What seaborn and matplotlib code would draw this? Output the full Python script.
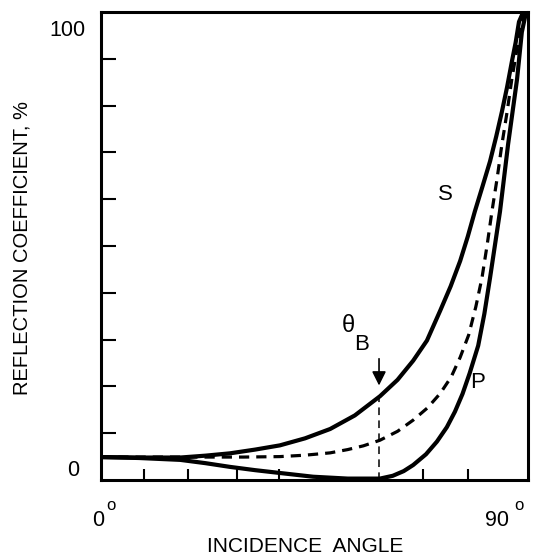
import matplotlib
matplotlib.use("Agg")
import matplotlib.pyplot as plt
import seaborn as sns

# ---- data (incidence angle in degrees, reflection coefficient in %) ----
s_angle = [0, 8, 16.7, 22, 27.2, 32.5, 37.7, 43, 48.3, 53.5, 58.8, 62.5, 65.8, 68.7, 71.5,
           73.7, 75.7, 77.3, 78.8, 80.4, 82.0, 83.3, 84.5, 85.6, 86.6, 87.4, 88.1, 89.0]
s_refl = [4.9, 4.8, 4.8, 5.2, 5.7, 6.5, 7.4, 8.9, 10.9, 13.8, 17.9, 21.4, 25.5, 29.8, 36.2,
          41.4, 46.8, 52.0, 57.4, 62.7, 68.1, 73.4, 78.7, 84.0, 89.4, 93.5, 97.9, 100]

avg_angle = [0, 16.7, 30, 37.7, 43, 48.3, 52, 55.3, 58.8, 62.5, 65.8, 68.8, 71.5, 73.8, 75.7,
             77.5, 79.0, 80.3, 81.4, 82.4, 83.5, 84.5, 85.6, 86.6, 87.5, 88.4, 89.4]
avg_refl = [4.9, 4.9, 4.9, 5.0, 5.3, 5.8, 6.5, 7.3, 8.5, 10.4, 12.8, 15.4, 18.5, 22.0, 26.2,
            31.0, 37.0, 43.2, 50.3, 57.4, 64.5, 71.7, 78.7, 85.7, 91.0, 96.4, 100]

p_angle = [0, 8, 16.7, 22, 27.2, 32.5, 37.7, 44.7, 52, 58.8, 61.5, 63.8, 65.8, 68.5, 70.8,
           72.9, 74.6, 76.2, 77.7, 79.5, 80.8, 82.0, 84.1, 85.8, 87.7, 88.7, 89.6]
p_refl = [4.9, 4.7, 4.3, 3.6, 2.8, 2.1, 1.5, 0.7, 0.3, 0.3, 0.9, 1.9, 3.2, 5.5, 8.2,
          11.3, 14.6, 18.4, 22.8, 28.7, 35.5, 43.2, 57.4, 71.7, 85.7, 95.7, 100]

brewster_angle = 58.6
brewster_refl_s = 17.9

x_tick_pos = [9.1, 18.3, 28.7, 37.5, 67.9, 77.4]
y_tick_pos = [10, 20, 30, 40, 50, 60, 70, 80, 90]

W, H = 539, 559
sns.set_theme(style="white")
plt.rcParams['font.family'] = ['Liberation Sans', 'DejaVu Sans']

fig = plt.figure(figsize=(W / 100, H / 100), dpi=100)
ax = fig.add_axes([101 / W, 1 - 480 / H, (528 - 101) / W, (480 - 12) / H])

lw = 3.0
sns.lineplot(x=s_angle, y=s_refl, ax=ax, color='black', lw=lw, estimator=None, sort=False)
sns.lineplot(x=p_angle, y=p_refl, ax=ax, color='black', lw=lw, estimator=None, sort=False)
sns.lineplot(x=avg_angle, y=avg_refl, ax=ax, color='black', lw=2.3, estimator=None, sort=False,
             linestyle=(0, (3.2, 2.2)))
ax.plot([brewster_angle, brewster_angle], [0, brewster_refl_s], color='black', lw=1.1,
        linestyle=(0, (5, 3.5)))
ax.annotate('', xy=(brewster_angle, 19.6), xytext=(brewster_angle, 26.5),
            arrowprops=dict(arrowstyle='-|>,head_length=0.7,head_width=0.35', color='black', lw=1.2))

ax.set_xlim(0, 90)
ax.set_ylim(0, 100)
ax.set_xticks(x_tick_pos)
ax.set_yticks(y_tick_pos)
ax.set_xticklabels([])
ax.set_yticklabels([])
ax.tick_params(axis='x', direction='in', length=8, width=1.5, color='black', bottom=True)
ax.tick_params(axis='y', direction='in', length=11, width=1.5, color='black', left=True)
for sp in ax.spines.values():
    sp.set_color('black')
    sp.set_linewidth(2.2)
ax.grid(False)


def ftext(px, py, s, size=15.5, **kw):
    fig.text(px / W, 1 - py / H, s, fontsize=size, ha='center', va='center', color='black', **kw)


ftext(67, 30, '100')
ftext(73, 470, '0')
ftext(98, 521, '0')
ftext(111, 505, 'o', size=12)
ftext(497, 521, '90')
ftext(519, 505, 'o', size=12)
ftext(305, 547, 'INCIDENCE  ANGLE', size=15)
ftext(22, 248, 'REFLECTION COEFFICIENT, %', size=14.5, rotation=90)
ftext(445, 195, 'S', size=16)
ftext(478, 383, 'P', size=16)
ftext(348, 326, 'θ', size=17)
ftext(362, 344, 'B', size=16)

fig.savefig('out.png', dpi=100)
